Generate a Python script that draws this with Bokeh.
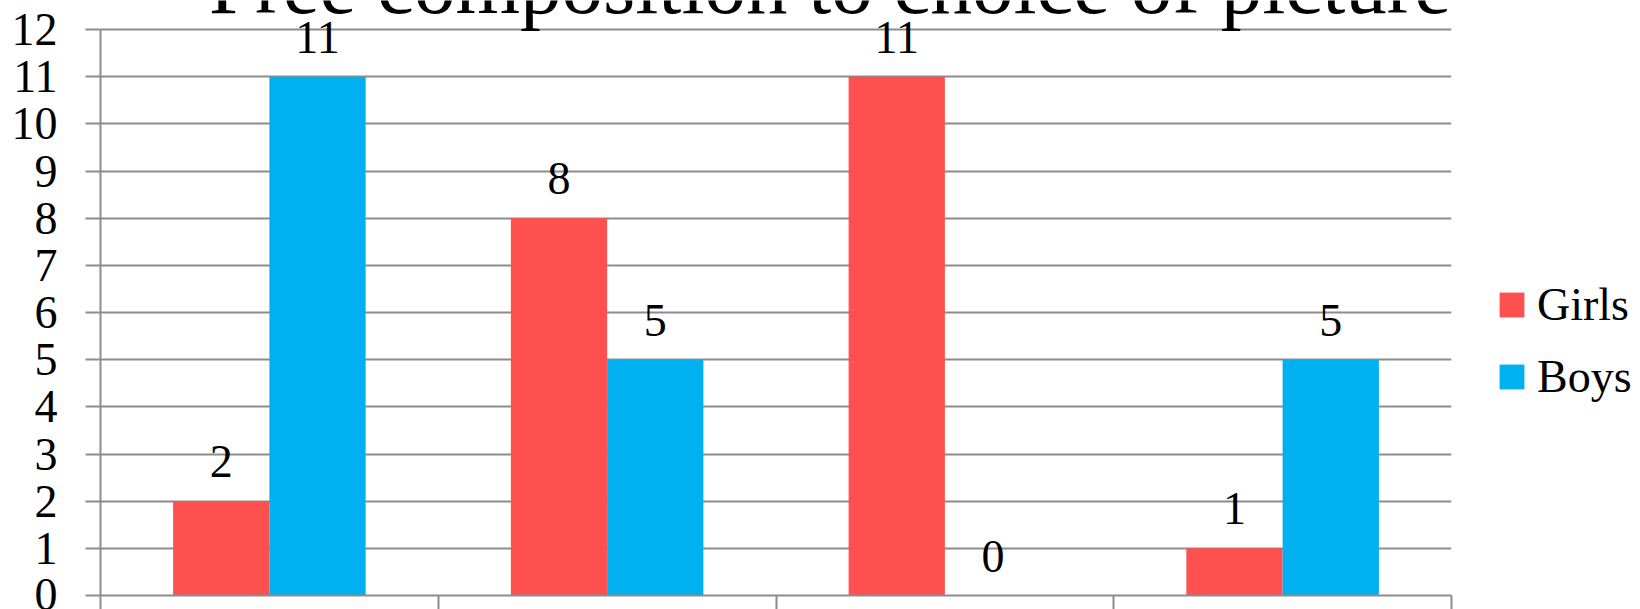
from bokeh.plotting import figure
from bokeh.models import ColumnDataSource, LabelSet, Label, Legend, LegendItem, FixedTicker, Range1d
from bokeh.transform import dodge
from bokeh.embed import file_html
from bokeh.resources import INLINE

categories = ["1", "2", "3", "4"]
girls = [2, 8, 11, 1]
boys = [11, 5, 0, 5]
y_ticks = list(range(0, 13))
title_text = "Free composition to choice of picture"

FONT = "Liberation Serif"
RED = "#FF5050"
BLUE = "#00B0F0"
GRID = "#8C8C8C"

xc = [i + 0.5 for i in range(len(categories))]
src = ColumnDataSource(dict(x=xc, girls=girls, boys=boys,
                            gl=[str(v) for v in girls], bl=[str(v) for v in boys]))

p = figure(frame_width=1351, frame_height=595,
           x_range=Range1d(0, len(categories)), y_range=Range1d(0, 12.615),
           output_backend="svg", toolbar_location=None,
           min_border_left=100, min_border_right=189, min_border_top=0, min_border_bottom=14)
p.outline_line_color = None
p.background_fill_color = "white"

rg = p.vbar(x=dodge("x", -0.1425, range=p.x_range), top="girls", width=0.285, source=src,
            fill_color=RED, line_color=None)
rb = p.vbar(x=dodge("x", 0.1425, range=p.x_range), top="boys", width=0.285, source=src,
            fill_color=BLUE, line_color=None)

for col, lab, off in (("girls", "gl", -0.1425), ("boys", "bl", 0.1425)):
    ls = LabelSet(x=dodge("x", off, range=p.x_range), y=col, text=lab, source=src,
                  y_offset=24, text_align="center", text_baseline="alphabetic",
                  text_font=FONT, text_font_size="46px", text_color="black")
    p.add_layout(ls)

# axes
p.yaxis.ticker = FixedTicker(ticks=y_ticks)
p.yaxis.bounds = (0, 12)
p.yaxis.major_label_text_font = FONT
p.yaxis.major_label_text_font_size = "46px"
p.yaxis.major_label_text_color = "black"
p.yaxis.major_label_standoff = 28
p.yaxis.major_tick_out = 15
p.yaxis.major_tick_in = 0
p.yaxis.minor_tick_line_color = None
p.yaxis.axis_line_color = GRID
p.yaxis.axis_line_width = 2
p.yaxis.major_tick_line_color = GRID
p.yaxis.major_tick_line_width = 2

p.xaxis.ticker = FixedTicker(ticks=list(range(0, len(categories) + 1)))
p.xaxis.major_label_text_font_size = "0px"
p.xaxis.major_label_standoff = 0
p.xaxis.major_tick_out = 14
p.xaxis.major_tick_in = 0
p.xaxis.minor_tick_line_color = None
p.xaxis.axis_line_color = GRID
p.xaxis.axis_line_width = 2
p.xaxis.major_tick_line_color = GRID
p.xaxis.major_tick_line_width = 2

p.xgrid.grid_line_color = None
p.ygrid.ticker = FixedTicker(ticks=y_ticks)
p.ygrid.grid_line_color = GRID
p.ygrid.grid_line_width = 2

title = Label(x=2.16, y=12.95, text=title_text, text_align="center",
              text_baseline="alphabetic", text_font=FONT, text_font_size="83px",
              text_color="black")
p.add_layout(title)

legend = Legend(items=[LegendItem(label="Girls", renderers=[rg]),
                       LegendItem(label="Boys", renderers=[rb])],
                location=(45, 192), orientation="vertical",
                glyph_width=31, glyph_height=31, label_text_font=FONT,
                label_text_font_size="46px", label_text_color="black",
                label_standoff=10, spacing=19,
                padding=0, margin=0, border_line_color=None, background_fill_alpha=0)
p.add_layout(legend, "right")

open("out.html", "w").write(file_html(p, INLINE))
